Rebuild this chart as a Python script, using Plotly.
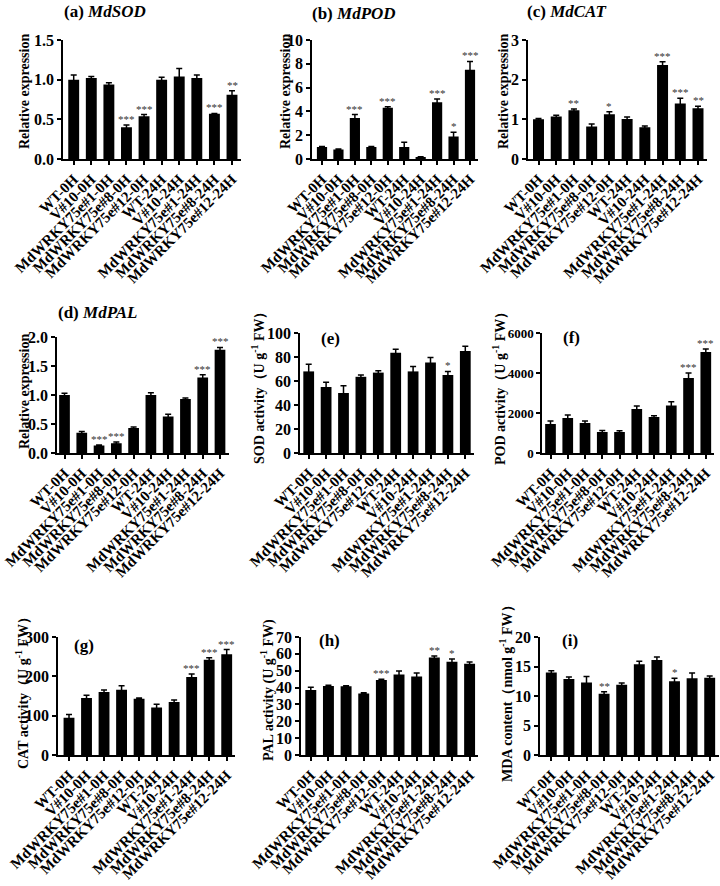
import plotly.graph_objects as go

# ---------------- data ----------------
categories = ["WT-0H", "V#10-0H", "MdWRKY75e#1-0H", "MdWRKY75e#8-0H", "MdWRKY75e#12-0H",
              "WT-24H", "V#10-24H", "MdWRKY75e#1-24H", "MdWRKY75e#8-24H", "MdWRKY75e#12-24H"]

sod_expr = [1.00, 1.02, 0.94, 0.40, 0.54, 1.00, 1.04, 1.02, 0.57, 0.81]
sod_expr_err = [0.06, 0.02, 0.02, 0.03, 0.02, 0.03, 0.10, 0.04, 0.005, 0.05]
sod_expr_sig = ["", "", "", "***", "***", "", "", "", "***", "**"]

pod_expr = [1.0, 0.8, 3.45, 1.0, 4.3, 1.0, 0.15, 4.77, 1.9, 7.5]
pod_expr_err = [0.05, 0.05, 0.28, 0.05, 0.1, 0.4, 0.03, 0.28, 0.35, 0.7]
pod_expr_sig = ["", "", "***", "", "***", "", "", "***", "*", "***"]

cat_expr = [1.00, 1.07, 1.23, 0.82, 1.13, 1.01, 0.80, 2.37, 1.40, 1.28]
cat_expr_err = [0.02, 0.03, 0.03, 0.06, 0.06, 0.05, 0.03, 0.08, 0.13, 0.05]
cat_expr_sig = ["", "", "**", "", "*", "", "", "***", "***", "**"]

pal_expr = [1.00, 0.35, 0.13, 0.17, 0.43, 1.00, 0.63, 0.93, 1.30, 1.78]
pal_expr_err = [0.03, 0.02, 0.01, 0.02, 0.02, 0.04, 0.04, 0.02, 0.05, 0.04]
pal_expr_sig = ["", "", "***", "***", "", "", "", "", "***", "***"]

sod_act = [68, 55, 50, 63.5, 67, 83.5, 68, 75.5, 65, 85]
sod_act_err = [6, 4, 6, 1.5, 1.5, 3, 4, 4, 3, 4]
sod_act_sig = ["", "", "", "", "", "", "", "", "*", ""]

pod_act = [1450, 1750, 1500, 1050, 1050, 2200, 1800, 2380, 3750, 5050]
pod_act_err = [150, 150, 100, 80, 60, 150, 60, 180, 250, 150]
pod_act_sig = ["", "", "", "", "", "", "", "", "***", "***"]

cat_act = [95, 145, 160, 166, 143, 121, 135, 198, 242, 256]
cat_act_err = [8, 7, 5, 10, 2, 8, 5, 8, 5, 12]
cat_act_sig = ["", "", "", "", "", "", "", "***", "***", "***"]

pal_act = [38.5, 41.0, 40.8, 36.5, 44.5, 47.8, 46.5, 57.8, 55.3, 54.2]
pal_act_err = [1.7, 0.4, 0.3, 0.4, 0.5, 2.0, 2.2, 1.0, 1.7, 1.0]
pal_act_sig = ["", "", "", "", "***", "", "", "**", "*", ""]

mda = [14.0, 12.9, 12.3, 10.4, 11.9, 15.4, 16.1, 12.5, 13.0, 13.1]
mda_err = [0.3, 0.3, 1.0, 0.3, 0.3, 0.5, 0.5, 0.5, 0.9, 0.3]
mda_sig = ["", "", "", "**", "", "", "", "*", "", ""]

series = [
    (sod_expr, sod_expr_err, sod_expr_sig),
    (pod_expr, pod_expr_err, pod_expr_sig),
    (cat_expr, cat_expr_err, cat_expr_sig),
    (pal_expr, pal_expr_err, pal_expr_sig),
    (sod_act, sod_act_err, sod_act_sig),
    (pod_act, pod_act_err, pod_act_sig),
    (cat_act, cat_act_err, cat_act_sig),
    (pal_act, pal_act_err, pal_act_sig),
    (mda, mda_err, mda_sig),
]

titles = ["<b>(a) <i>MdSOD</i></b>", "<b>(b) <i>MdPOD</i></b>", "<b>(c) <i>MdCAT</i></b>",
          "<b>(d) <i>MdPAL</i></b>", "<b>(e)</b>", "<b>(f)</b>", "<b>(g)</b>", "<b>(h)</b>", "<b>(i)</b>"]
ytitles = ["Relative expression", "Relative expression", "Relative expression", "Relative expression",
           "SOD activity（U g<sup>-1</sup> FW）", "POD activity（U g<sup>-1</sup> FW）",
           "CAT activity（U g<sup>-1</sup> FW）", "PAL activity (U g<sup>-1</sup> FW)",
           "MDA content（nmol g<sup>-1</sup> FW）"]
yranges = [(1.5, 0.5, ".1f"), (10, 2, "d"), (3, 1, "d"), (2.0, 0.5, ".1f"), (100, 20, "d"),
           (6000, 2000, "d"), (300, 100, "d"), (70, 10, "d"), (20, 5, "d")]

# ---------------- geometry (pixels) ----------------
W, H = 720, 886
# left axis x, first bar centre, last bar centre, top, bottom
geo = [
    (63, 73.7, 232, 40, 159), (312, 322, 470, 40, 159), (528, 538.5, 698, 40, 159),
    (57, 64.5, 220, 337, 453), (300, 308.7, 465.3, 333, 453), (542, 550.5, 705.8, 333, 453),
    (58, 69, 226.7, 637, 755), (301, 310.8, 469.6, 637, 755), (540, 551.3, 709.7, 637, 755),
]
ytick_size = [16, 16, 16, 16, 16, 13, 16, 16, 16]
# title positions: (x_left, y_centre)
title_pos = [(62, 11), (310, 13), (525, 11), (56, 312), (319, 338), (561, 337), (72, 645), (317, 640), (560, 640)]
# y-title positions: (x_centre, y_centre)
ytitle_pos = [(24, 92), (285, 92), (503, 92), (24, 392), (258, 385), (499, 385), (22, 690), (267, 690), (506, 690)]

FONT = "Liberation Serif"
fig = go.Figure()
annotations = []
layout = {}

for k, ((vals, errs, sigs), (left, c0, c9, top, bot)) in enumerate(zip(series, geo)):
    n = k + 1
    xa = "x" if n == 1 else f"x{n}"
    ya = "y" if n == 1 else f"y{n}"
    sp = (c9 - c0) / 9
    right = c9 + 0.5 * sp
    x0 = -(c0 - left) / sp
    xs = list(range(len(categories)))
    fig.add_trace(go.Bar(
        x=xs, y=vals, xaxis=xa, yaxis=ya, width=0.62,
        marker=dict(color="black", line=dict(width=0)),
        error_y=dict(type="data", array=errs, color="black", thickness=1.5, width=3),
        showlegend=False,
    ))
    ymax, dt, fmt = yranges[k]
    layout[f"xaxis{'' if n == 1 else n}"] = dict(
        domain=[left / W, min(right / W, 1.0)], anchor=ya, range=[x0, 9.5],
        tickmode="array", tickvals=xs, ticktext=[f"<b>{c}</b>" for c in categories],
        tickangle=-45, ticks="outside", ticklen=4, tickwidth=1.5, tickcolor="black",
        showline=True, linewidth=1.5, linecolor="black", showgrid=False, zeroline=False,
        tickfont=dict(family=FONT, size=15, color="black"), fixedrange=True, automargin=False,
        ticklabeloverflow="allow",
    )
    layout[f"yaxis{'' if n == 1 else n}"] = dict(
        domain=[1 - bot / H, 1 - top / H], anchor=xa, range=[0, ymax],
        tickmode="linear", tick0=0, dtick=dt, tickformat=fmt,
        ticks="outside", ticklen=4, tickwidth=1.5, tickcolor="black",
        showline=True, linewidth=1.5, linecolor="black", showgrid=False, zeroline=False,
        tickfont=dict(family=FONT, size=ytick_size[k], color="black", weight="bold"),
        automargin=False, ticklabeloverflow="allow",
    )
    for i, s in enumerate(sigs):
        if s:
            annotations.append(dict(
                x=i, y=vals[i] + errs[i], xref=xa, yref=ya, text=s, showarrow=False,
                yanchor="bottom", yshift=-2, font=dict(family=FONT, size=11, color="#333"),
            ))
    tx, ty = title_pos[k]
    annotations.append(dict(
        x=tx / W, y=1 - ty / H, xref="paper", yref="paper", text=titles[k], showarrow=False,
        xanchor="left", yanchor="middle", font=dict(family=FONT, size=17, color="black"),
    ))
    yx, yy = ytitle_pos[k]
    annotations.append(dict(
        x=yx / W, y=1 - yy / H, xref="paper", yref="paper", text=f"<b>{ytitles[k]}</b>",
        showarrow=False, textangle=-90, xanchor="center", yanchor="middle",
        font=dict(family=FONT, size=14, color="black"),
    ))

fig.update_layout(
    width=W, height=H, margin=dict(l=0, r=0, t=0, b=0, autoexpand=False),
    paper_bgcolor="white", plot_bgcolor="white",
    annotations=annotations, bargap=0.4, **layout,
)
fig.write_html("out.html", config={"displayModeBar": False},
               post_script="document.body.style.margin='0px';")
